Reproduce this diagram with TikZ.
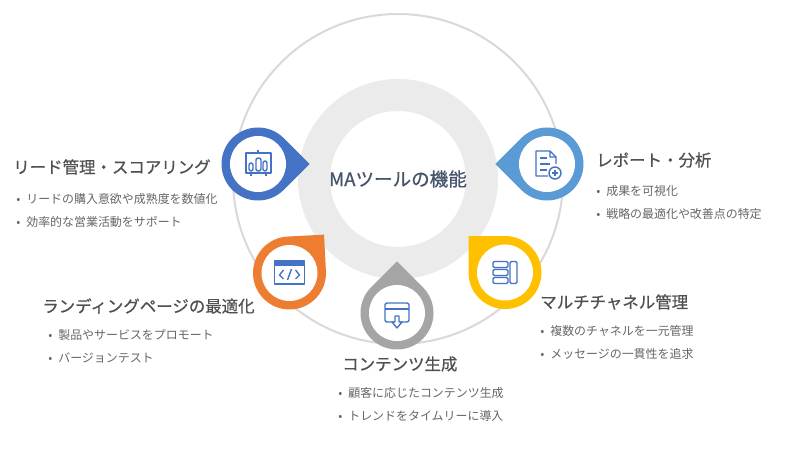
\documentclass[tikz,border=0pt]{standalone}
\usepackage{fontspec}
\setmainfont{Noto Sans CJK JP}
\newfontfamily\headfont[FakeBold=0.6]{Noto Sans CJK JP}
\usetikzlibrary{calc}

\definecolor{pinblue}{HTML}{4472C4}
\definecolor{pinsky}{HTML}{5B9BD5}
\definecolor{pinorange}{HTML}{ED7D31}
\definecolor{pingray}{HTML}{A5A5A5}
\definecolor{pinyellow}{HTML}{FFC000}
\definecolor{ringgray}{HTML}{EBEBEB}
\definecolor{linegray}{HTML}{D9D9D9}
\definecolor{headtext}{HTML}{505050}
\definecolor{bodytext}{HTML}{666666}
\definecolor{hubtext}{HTML}{44546A}

% teardrop: centre, direction of the tip, colour
\newcommand{\pindrop}[3]{
  \fill[#3] ($(#1)+({#2+45}:36.5)$) arc[start angle={#2+45}, end angle={#2+315}, radius=36.5]
    -- ($(#1)+(#2:51.6)$) -- cycle;
  \fill[white] (#1) circle (28);
}

\begin{document}
\begin{tikzpicture}[
  x=0.25mm, y=-0.25mm,
  heading/.style = {anchor=west, inner sep=0pt, text=headtext, font=\fontsize{11.7pt}{14pt}\headfont},
  bullet/.style = {anchor=west, inner sep=0pt, text=bodytext, font=\fontsize{8.5pt}{10pt}\selectfont},
  title/.style = {inner sep=0pt, text=hubtext, font=\fontsize{13.2pt}{16pt}\headfont},
  icon/.style = {draw=pinblue, line width=0.35mm, line join=round},
]
\useasboundingbox (0,0) rectangle (800,449);
\fill[white] (0,0) rectangle (800,449);

% Coordinates
\coordinate (hub) at (398,179);
\coordinate (lead) at (258,164);
\coordinate (report) at (547,164);
\coordinate (landing) at (289.5,273);
\coordinate (content) at (397,313);
\coordinate (channel) at (505,272.5);

% Rings
\draw[linegray, line width=0.5mm] (hub) circle (165);
\draw[ringgray, line width=8mm] (hub) circle (84);

% Pins
\pindrop{lead}{0}{pinblue}
\pindrop{report}{180}{pinsky}
\pindrop{landing}{-48}{pinorange}
\pindrop{content}{-90}{pingray}
\pindrop{channel}{-135}{pinyellow}

% Icon: lead (screen with bars)
\begin{scope}[shift={(lead)}]
  \draw[icon] (-12,-11) rectangle (13,9);
  \draw[icon] (-7,9) -- (-7,12) (8,9) -- (8,12) (0,-11) -- (0,-14);
  \draw[icon, rounded corners=1.5] (-9,-1) rectangle (-5,7) (-2,-6) rectangle (3,7) (5,-3) rectangle (9,7);
\end{scope}

% Icon: report (sheet with plus)
\begin{scope}[shift={(report)}]
  \draw[icon] (1,12) -- (-11,12) -- (-11,-13) -- (3,-13) -- (9,-7) -- (9,0) (3,-13) -- (3,-7) -- (9,-7);
  \draw[icon] (-7,-6) -- (0,-6) (-7,0) -- (3,0) (-7,6) -- (0,6);
  \draw[icon] (8,9) circle (6);
  \draw[icon] (5,9) -- (11,9) (8,6) -- (8,12);
\end{scope}

% Icon: landing (browser with code)
\begin{scope}[shift={(landing)}]
  \fill[pinblue] (-15,-12) rectangle (15,-7);
  \draw[icon] (-15,-12) rectangle (15,11);
  \draw[icon] (-6,-3) -- (-10,2) -- (-6,6) (6,-3) -- (10,2) -- (6,6) (2,-4) -- (-2,7);
\end{scope}

% Icon: content (browser with arrow)
\begin{scope}[shift={(content)}]
  \draw[icon, rounded corners=1.5] (-3,9) -- (-12,9) -- (-12,-10) -- (12,-10) -- (12,9) -- (3,9);
  \draw[icon] (-12,-4) -- (12,-4);
  \draw[icon] (-2,3) -- (2,3) -- (2,9) -- (5,9) -- (0,15) -- (-5,9) -- (-2,9) -- cycle;
\end{scope}

% Icon: channel (stacked bars)
\begin{scope}[shift={(channel)}]
  \draw[icon, rounded corners=1] (-12,-11) rectangle (3,-5) (-12,-3) rectangle (3,3) (-12,5) rectangle (3,11) (5,-11) rectangle (12,11);
\end{scope}

% Texts
\node[title] (hubtitle) at (398,179) {MAツールの機能};

\node[heading] (leadhead) at (13,167) {リード管理・スコアリング};
\node[bullet] (leadone) at (16,199) {•\hspace{0.5em}リードの購入意欲や成熟度を数値化};
\node[bullet] (leadtwo) at (16,222) {•\hspace{0.5em}効率的な営業活動をサポート};

\node[heading] (reporthead) at (596,160) {レポート・分析};
\node[bullet] (reportone) at (596,191) {•\hspace{0.5em}成果を可視化};
\node[bullet] (reporttwo) at (596,214) {•\hspace{0.5em}戦略の最適化や改善点の特定};

\node[heading] (landinghead) at (42,306) {ランディングページの最適化};
\node[bullet] (landingone) at (48,335) {•\hspace{0.5em}製品やサービスをプロモート};
\node[bullet] (landingtwo) at (48,358) {•\hspace{0.5em}バージョンテスト};

\node[heading] (contenthead) at (342,364) {コンテンツ生成};
\node[bullet] (contentone) at (338,393) {•\hspace{0.5em}顧客に応じたコンテンツ生成};
\node[bullet] (contenttwo) at (338,416) {•\hspace{0.5em}トレンドをタイムリーに導入};

\node[heading] (channelhead) at (540,302) {マルチチャネル管理};
\node[bullet] (channelone) at (540,331) {•\hspace{0.5em}複数のチャネルを一元管理};
\node[bullet] (channeltwo) at (540,354) {•\hspace{0.5em}メッセージの一貫性を追求};

\end{tikzpicture}
\end{document}
